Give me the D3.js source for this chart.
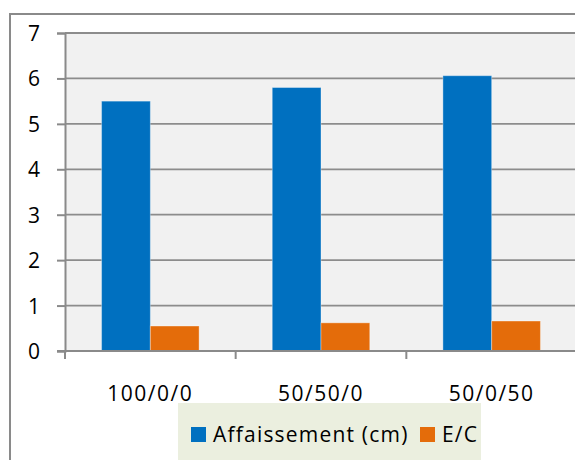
<!DOCTYPE html>
<html>
<head>
<meta charset="utf-8">
<script src="https://cdn.jsdelivr.net/npm/d3@7"></script>
<style>
  html, body { margin: 0; padding: 0; background: #fff; }
  svg { display: block; }
  text { font-family: "Open Sans", "Noto Sans", sans-serif; fill: #000; }
</style>
</head>
<body>
<svg id="chart" width="575" height="460"></svg>
<script>
// Mix ratios on the x axis
const categories = ["100/0/0", "50/50/0", "50/0/50"];
// Series names and values
const seriesNames = ["Affaissement (cm)", "E/C"];
const affaissement = [5.5, 5.8, 6.06];
const ec = [0.55, 0.62, 0.66];
const seriesColors = ["#0070c0", "#e46c0a"];
const yTicks = [0, 1, 2, 3, 4, 5, 6, 7];

const rows = categories.map((c, i) => ({ cat: c, values: [affaissement[i], ec[i]] }));

const svg = d3.select("#chart");
const W = 575, H = 460;
const plot = { left: 65, top: 33, right: 577, bottom: 351 };

// Outer chart frame (runs past the right and bottom edges)
svg.append("rect")
  .attr("x", 10).attr("y", 14)
  .attr("width", 600).attr("height", 500)
  .attr("fill", "#fff")
  .attr("stroke", "#8a8a8a").attr("stroke-width", 2);

const y = d3.scaleLinear().domain([0, 7]).range([plot.bottom, plot.top]);
const x0 = d3.scaleBand().domain(categories).range([plot.left, plot.right]).paddingInner(0).paddingOuter(0);
const x1 = d3.scaleBand().domain(d3.range(seriesNames.length)).range([0, x0.bandwidth()])
  .paddingInner(0).paddingOuter(0.75);

// Plot area background
svg.append("rect")
  .attr("x", plot.left).attr("y", plot.top)
  .attr("width", plot.right - plot.left).attr("height", plot.bottom - plot.top)
  .attr("fill", "#f1f1f1");

// Horizontal gridlines
svg.append("g")
  .selectAll("line")
  .data(yTicks.filter(t => t > 0))
  .join("line")
  .attr("x1", plot.left).attr("x2", plot.right)
  .attr("y1", d => y(d)).attr("y2", d => y(d))
  .attr("stroke", "#8c8c8c").attr("stroke-width", 1.8);

// Bars
const groups = svg.append("g")
  .selectAll("g")
  .data(rows)
  .join("g")
  .attr("transform", d => `translate(${x0(d.cat)},0)`);

groups.selectAll("rect")
  .data(d => d.values.map((v, i) => ({ v, i })))
  .join("rect")
  .attr("x", d => x1(d.i))
  .attr("width", x1.bandwidth())
  .attr("y", d => y(d.v))
  .attr("height", d => y(0) - y(d.v))
  .attr("fill", d => seriesColors[d.i])
  .attr("stroke", "rgba(255,255,255,0.35)")
  .attr("stroke-width", 1);

// Y axis
const yAxis = svg.append("g")
  .attr("transform", `translate(${plot.left},0)`)
  .call(d3.axisLeft(y).tickValues(yTicks).tickSize(8).tickPadding(17).tickFormat(d3.format("d")));
yAxis.selectAll(".domain").attr("stroke", "#8a8a8a").attr("stroke-width", 2);
yAxis.selectAll(".tick line").attr("stroke", "#8a8a8a").attr("stroke-width", 2);
yAxis.selectAll("text")
  .attr("font-size", 21)
  .attr("dy", "0.36em")
  .style("font-family", "'Open Sans', sans-serif")
  .attr("fill", "#000");

// X axis: category boundaries ticks
const boundaries = categories.map(c => x0(c)).concat([x0(categories[categories.length - 1]) + x0.bandwidth()]);
const xAxisG = svg.append("g");
xAxisG.append("line")
  .attr("x1", plot.left - 8).attr("x2", plot.right)
  .attr("y1", y(0)).attr("y2", y(0))
  .attr("stroke", "#8a8a8a").attr("stroke-width", 2);
xAxisG.selectAll("line.tk")
  .data(boundaries)
  .join("line")
  .attr("class", "tk")
  .attr("x1", d => d).attr("x2", d => d)
  .attr("y1", y(0)).attr("y2", y(0) + 8)
  .attr("stroke", "#8a8a8a").attr("stroke-width", 2);
xAxisG.selectAll("text")
  .data(categories)
  .join("text")
  .attr("x", d => x0(d) + x0.bandwidth() / 2)
  .attr("y", 401)
  .attr("text-anchor", "middle")
  .attr("font-size", 21)
  .attr("letter-spacing", "1.5px")
  .text(d => d);

// Legend
const legend = svg.append("g");
legend.append("rect")
  .attr("x", 178).attr("y", 403)
  .attr("width", 303).attr("height", 80)
  .attr("fill", "#ebefdf");

const legendItems = [
  { name: seriesNames[0], color: seriesColors[0], sx: 191, tx: 213 },
  { name: seriesNames[1], color: seriesColors[1], sx: 420, tx: 442 }
];
legend.selectAll("rect.sw")
  .data(legendItems)
  .join("rect")
  .attr("class", "sw")
  .attr("x", d => d.sx).attr("y", 427)
  .attr("width", 15).attr("height", 15)
  .attr("fill", d => d.color);
legend.selectAll("text")
  .data(legendItems)
  .join("text")
  .attr("x", d => d.tx)
  .attr("y", 442)
  .attr("font-size", 21)
  .attr("letter-spacing", "1.2px")
  .text(d => d.name);
</script>
</body>
</html>
